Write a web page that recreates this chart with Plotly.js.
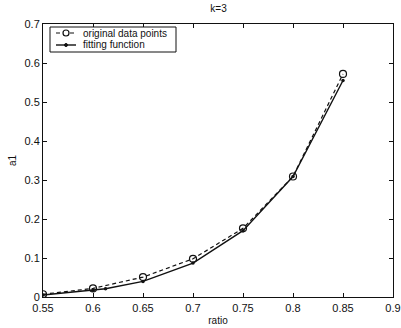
<!DOCTYPE html>
<html>
<head>
<meta charset="utf-8">
<script src="https://cdn.plot.ly/plotly-3.0.1.min.js"></script>
<style>html,body{margin:0;padding:0;background:#fff;}#chart{width:401px;height:328px;}</style>
</head>
<body>
<div id="chart"></div>
<script>
var ratioOrig = [0.55, 0.6, 0.65, 0.7, 0.75, 0.8, 0.85];
var a1Orig = [0.007, 0.022, 0.051, 0.098, 0.176, 0.309, 0.572];
var ratioFit = [0.55, 0.6, 0.6125, 0.65, 0.7, 0.75, 0.8, 0.85];
var a1Fit = [0.005, 0.017, 0.021, 0.040, 0.087, 0.170, 0.309, 0.555];
var xTicks = [0.55, 0.6, 0.65, 0.7, 0.75, 0.8, 0.85, 0.9];
var xTickText = ['0.55', '0.6', '0.65', '0.7', '0.75', '0.8', '0.85', '0.9'];
var yTicks = [0, 0.1, 0.2, 0.3, 0.4, 0.5, 0.6, 0.7];
var yTickText = ['0', '0.1', '0.2', '0.3', '0.4', '0.5', '0.6', '0.7'];
var legendNames = ['original data points', 'fitting function'];

var fam = 'Liberation Sans, Arial, sans-serif';
var ink = '#111';
var font = {family: fam, size: 11, color: ink};
var traces = [
  {x: ratioOrig, y: a1Orig, name: legendNames[0], type: 'scatter', mode: 'lines+markers',
   line: {color: ink, width: 1.2, dash: '4px,3px'},
   marker: {symbol: 'circle-open', size: 7, color: ink, line: {width: 1.2}}},
  {x: ratioFit, y: a1Fit, name: legendNames[1], type: 'scatter', mode: 'lines+markers',
   line: {color: ink, width: 1.4},
   marker: {symbol: 'circle', size: 3.5, color: ink}}
];

// hand-made compact legend (paper coordinates)
var W = 350, H = 273;
function px(v) { return v / W; }
function py(v) { return v / H; }
var row1 = 1 - py(9), row2 = 1 - py(21);
var shapes = [
  {type: 'rect', xref: 'paper', yref: 'paper', x0: px(7), x1: px(133), y0: 1 - py(3), y1: 1 - py(28),
   line: {color: ink, width: 1}, fillcolor: '#fff', layer: 'above'},
  {type: 'line', xref: 'paper', yref: 'paper', x0: px(13), x1: px(33), y0: row1, y1: row1,
   line: {color: ink, width: 1.2, dash: '4px,3px'}, layer: 'above'},
  {type: 'circle', xref: 'paper', yref: 'paper', x0: px(20), x1: px(26), y0: row1 - py(3), y1: row1 + py(3),
   line: {color: ink, width: 1.2}, fillcolor: '#fff', layer: 'above'},
  {type: 'line', xref: 'paper', yref: 'paper', x0: px(13), x1: px(33), y0: row2, y1: row2,
   line: {color: ink, width: 1.4}, layer: 'above'},
  {type: 'circle', xref: 'paper', yref: 'paper', x0: px(21.5), x1: px(24.5), y0: row2 - py(1.5), y1: row2 + py(1.5),
   line: {color: ink, width: 1}, fillcolor: ink, layer: 'above'}
];
var annotations = [
  {xref: 'paper', yref: 'paper', x: px(38), y: row1, xanchor: 'left', yanchor: 'middle', showarrow: false,
   text: legendNames[0], font: {family: fam, size: 10, color: ink}},
  {xref: 'paper', yref: 'paper', x: px(38), y: row2, xanchor: 'left', yanchor: 'middle', showarrow: false,
   text: legendNames[1], font: {family: fam, size: 10, color: ink}}
];

var layout = {
  width: 401, height: 328,
  margin: {l: 43, r: 8, t: 24, b: 31},
  paper_bgcolor: '#fff', plot_bgcolor: '#fff',
  font: font,
  title: {text: 'k=3', font: {family: fam, size: 10, color: ink}, x: 0.545, xanchor: 'center', y: 0.975, yanchor: 'middle'},
  showlegend: false,
  shapes: shapes,
  annotations: annotations,
  xaxis: {range: [0.55, 0.9], tickvals: xTicks, ticktext: xTickText, ticks: 'inside', ticklen: 4,
          tickcolor: ink, showline: true, linecolor: ink, linewidth: 1, mirror: 'allticks',
          showgrid: false, zeroline: false, ticklabelstandoff: 1,
          title: {text: 'ratio', font: {family: fam, size: 10, color: ink}, standoff: 3}},
  yaxis: {range: [0, 0.7], tickvals: yTicks, ticktext: yTickText, ticks: 'inside', ticklen: 4,
          tickcolor: ink, showline: true, linecolor: ink, linewidth: 1, mirror: 'allticks',
          showgrid: false, zeroline: false,
          title: {text: 'a1', font: {family: fam, size: 10, color: ink}, standoff: 6}}
};
Plotly.newPlot('chart', traces, layout, {displayModeBar: false, staticPlot: true});
</script>
</body>
</html>
